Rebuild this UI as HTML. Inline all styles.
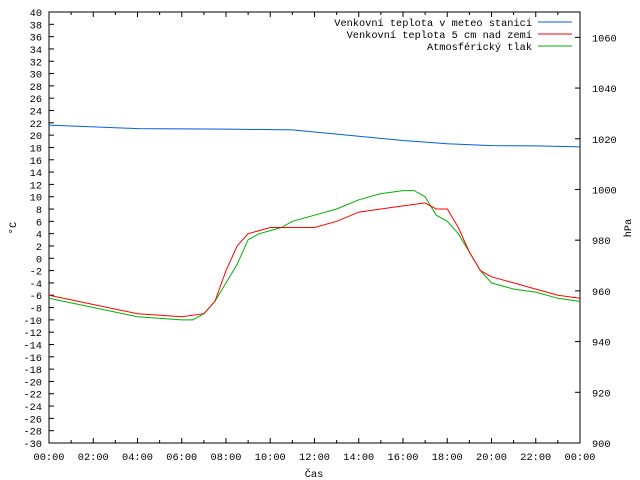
<!DOCTYPE html>
<html><head><meta charset="utf-8"><style>
body{margin:0;background:#fff}
svg{display:block;font-family:"Liberation Mono","DejaVu Sans Mono",monospace;font-size:10.3px}
</style></head><body>
<svg id="c" width="640" height="480"></svg>
<script>
const hoursRed=[0,2,4,6,7,7.5,8,8.5,9,10,11,12,13,14,15,16,17,17.5,18,18.5,19,19.5,20,21,22,23,24];
const tempRed=[-6,-7.5,-9,-9.5,-9,-7,-2,2,4,5,5,5,6,7.5,8,8.5,9,8,8,5,1,-2,-3,-4,-5,-6,-6.5];
const hoursGreen=[0,2,4,6,6.5,7,7.5,8,8.5,9,9.5,10,10.5,11,12,13,14,15,16,16.5,17,17.5,18,18.5,19,19.5,20,21,22,23,24];
const tempGreen=[-6.5,-8,-9.5,-10,-10,-9,-7,-4,-1,3,4,4.5,5,6,7,8,9.5,10.5,11,11,10,7,6,4,1,-2,-4,-5,-5.5,-6.5,-7];
const hoursBlue=[0,4,8,11,14,16,18,20,22,24];
const pressBlue=[1025.4,1024,1023.8,1023.5,1021,1019.3,1018,1017.3,1017.2,1016.8];
const yTicksL=[40,38,36,34,32,30,28,26,24,22,20,18,16,14,12,10,8,6,4,2,0,-2,-4,-6,-8,-10,-12,-14,-16,-18,-20,-22,-24,-26,-28,-30];
const yTicksR=[900,920,940,960,980,1000,1020,1040,1060];
const xTickLabels=["00:00","02:00","04:00","06:00","08:00","10:00","12:00","14:00","16:00","18:00","20:00","22:00","00:00"];
const L=49,R=580,T=12,B=443;
const xs=h=>L+h/24*(R-L);
const yT=t=>T+(40-t)*(B-T)/70;
const yP=p=>B-(p-900)*(B-T)/170;
const svg=document.getElementById('c');const NS='http://www.w3.org/2000/svg';
function mk(tag,attrs,txt){const e=document.createElementNS(NS,tag);for(const k in attrs)e.setAttribute(k,attrs[k]);if(txt!=null)e.textContent=txt;svg.appendChild(e);return e;}
let e=mk('rect',{x:L,y:T,width:R-L,height:B-T,fill:'none',stroke:'#000'});


yTicksL.forEach(v=>{const y=yT(v);
e=mk('line',{x1:L,y1:y,x2:L+5,y2:y,stroke:'#000'});


e=mk('text',{x:L-7,y:y+4,'text-anchor':'end'},v);

});
yTicksR.forEach(v=>{const y=yP(v);
e=mk('line',{x1:R-5,y1:y,x2:R,y2:y,stroke:'#000'});


e=mk('text',{x:R+12,y:y+4},v);

});
for(let h=0;h<=24;h++){const x=xs(h),len=h%2?3:5;
e=mk('line',{x1:x,y1:B,x2:x,y2:B-len,stroke:'#000'});


e=mk('line',{x1:x,y1:T,x2:x,y2:T+len,stroke:'#000'});

}
xTickLabels.forEach((s,i)=>{
e=mk('text',{x:xs(i*2),y:B+17,'text-anchor':'middle'},s);

});
e=mk('text',{x:314,y:477,'text-anchor':'middle'},'Čas');


e=mk('text',{x:16,y:228,'text-anchor':'middle',transform:'rotate(-90 16 228)'},'°C');


e=mk('text',{x:631,y:228,'text-anchor':'middle',transform:'rotate(-90 631 228)'},'hPa');


function line(hs,vs,f,col,name){const d=hs.map((h,i)=>(i?'L':'M')+xs(h).toFixed(1)+' '+f(vs[i]).toFixed(1)).join(' ');
const p=mk('path',{d:d,fill:'none',stroke:col,'stroke-width':1});

}
line(hoursBlue,pressBlue,yP,'#0060e0','series-blue');
line(hoursGreen,tempGreen,yT,'#00b000','series-green');
line(hoursRed,tempRed,yT,'#ff0000','series-red');
const leg=[['Venkovní teplota v meteo stanici','#0060e0'],['Venkovní teplota 5 cm nad zemí','#ff0000'],['Atmosférický tlak','#00b000']];
leg.forEach((l,i)=>{const y=22+i*12;
e=mk('text',{x:532,y:y+4,'text-anchor':'end'},l[0]);


e=mk('line',{x1:538,y1:y,x2:572,y2:y,stroke:l[1]});

});
</script>
</body></html>
